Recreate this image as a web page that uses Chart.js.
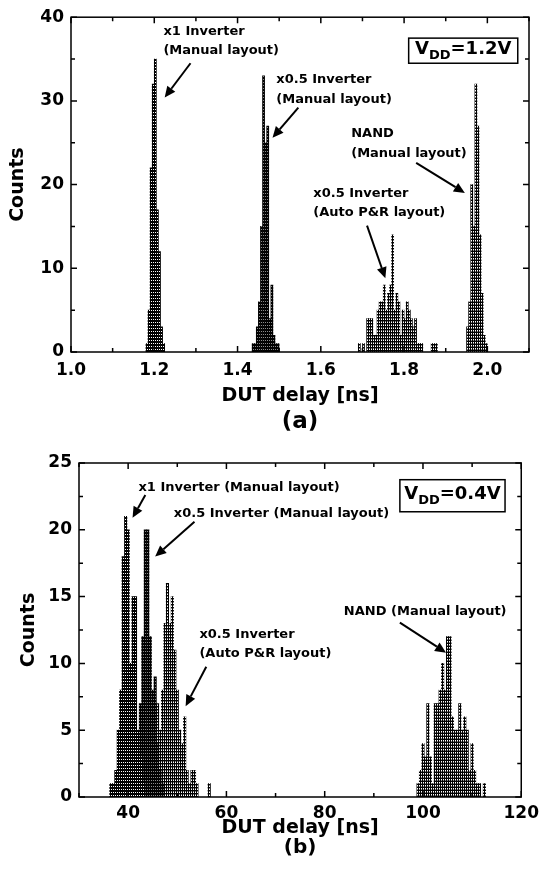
<!DOCTYPE html>
<html>
<head>
<meta charset="utf-8">
<script src="https://cdn.jsdelivr.net/npm/chart.js@4.4.0/dist/chart.umd.min.js"></script>
<style>
  html, body { margin: 0; padding: 0; background: #fff; }
  #boxA { position: absolute; left: 0; top: 0; width: 545px; height: 440px; }
  #boxB { position: absolute; left: 0; top: 440px; width: 545px; height: 437px; }
</style>
</head>
<body>
<div id="boxA"><canvas id="chartA"></canvas></div>
<div id="boxB"><canvas id="chartB"></canvas></div>
<script>
const FONT = '"DejaVu Sans", "Liberation Sans", sans-serif';

// ---- (a) VDD = 1.2 V, delay bins of 0.005 ns ----
const aX1Delay = [1.1825, 1.1875, 1.1925, 1.1975, 1.2025, 1.2075, 1.2125, 1.2175, 1.2225];
const aX1Count = [1, 5, 22, 32, 35, 17, 12, 3, 1];

const aHalfDelay = [1.4375, 1.4425, 1.4475, 1.4525, 1.4575, 1.4625, 1.4675, 1.4725, 1.4775, 1.4825, 1.4875, 1.4925, 1.4975];
const aHalfCount = [1, 1, 3, 6, 15, 33, 25, 27, 4, 8, 2, 1, 1];

const aAutoDelay = [1.6925, 1.7025, 1.7125, 1.7175, 1.7225, 1.7275, 1.7325, 1.7375, 1.7425, 1.7475, 1.7525,
                    1.7575, 1.7625, 1.7675, 1.7725, 1.7775, 1.7825, 1.7875, 1.7925, 1.7975, 1.8025, 1.8075,
                    1.8125, 1.8175, 1.8225, 1.8275, 1.8325, 1.8375, 1.8425, 1.8675, 1.8725, 1.8775];
const aAutoCount = [1, 1, 4, 4, 4, 2, 2, 5, 6, 6, 8, 5, 7, 8, 14, 5, 7, 6, 2, 5, 4, 6, 5, 4, 3, 4, 1, 1, 1, 1, 1, 1];

const aNandDelay = [1.9525, 1.9575, 1.9625, 1.9675, 1.9725, 1.9775, 1.9825, 1.9875, 1.9925, 1.9975];
const aNandCount = [3, 6, 20, 15, 32, 27, 14, 7, 2, 1];

// ---- (b) VDD = 0.4 V, delay bins of 0.5 ns ----
const bX1Delay = [36.5, 37, 37.5, 38, 38.5, 39, 39.5, 40, 40.5, 41, 41.5, 42, 42.5, 43];
const bX1Count = [1, 1, 2, 5, 8, 18, 21, 20, 10, 15, 15, 5, 3, 1];

const bHalfDelay = [41.5, 42, 42.5, 43, 43.5, 44, 44.5, 45, 45.5, 46, 46.5, 47];
const bHalfCount = [3, 4, 7, 12, 20, 20, 12, 8, 9, 4, 2, 1];

const bAutoDelay = [43, 43.5, 44, 44.5, 45, 45.5, 46, 46.5, 47, 47.5, 48, 48.5, 49, 49.5, 50, 50.5,
                    51, 51.5, 52, 52.5, 53, 53.5, 54, 56.5];
const bAutoCount = [2, 3, 4, 5, 7, 6, 7, 5, 8, 13, 16, 13, 15, 11, 8, 5, 4, 6, 2, 1, 2, 2, 1, 1];

const bNandDelay = [99, 99.5, 100, 100.5, 101, 101.5, 102, 102.5, 103, 103.5, 104, 104.5, 105, 105.5,
                    106, 106.5, 107, 107.5, 108, 108.5, 109, 109.5, 110, 110.5, 111, 111.5, 112.5];
const bNandCount = [1, 2, 4, 3, 7, 3, 1, 7, 7, 8, 10, 8, 12, 12, 6, 5, 5, 7, 5, 6, 5, 2, 4, 2, 1, 1, 1];

// annotation texts (positions in data units of each panel)
const notesA = [
  { x: 1.222, y: 38.3, text: 'x1 Inverter' },
  { x: 1.222, y: 36.0, text: '(Manual layout)' },
  { x: 1.493, y: 32.5, text: 'x0.5 Inverter' },
  { x: 1.493, y: 30.2, text: '(Manual layout)' },
  { x: 1.673, y: 26.1, text: 'NAND' },
  { x: 1.673, y: 23.7, text: '(Manual layout)' },
  { x: 1.582, y: 18.9, text: 'x0.5 Inverter' },
  { x: 1.582, y: 16.6, text: '(Auto P&R layout)' }
];
const arrowsA = [
  [1.287, 34.5, 1.225, 30.4],
  [1.546, 29.2, 1.484, 25.6],
  [1.829, 22.6, 1.946, 19.0],
  [1.711, 15.1, 1.755, 8.8]
];
const notesB = [
  { x: 42.1, y: 23.15, text: 'x1 Inverter (Manual layout)' },
  { x: 49.3, y: 21.2, text: 'x0.5 Inverter (Manual layout)' },
  { x: 54.5, y: 12.15, text: 'x0.5 Inverter' },
  { x: 54.5, y: 10.7, text: '(Auto P&R layout)' },
  { x: 83.9, y: 13.9, text: 'NAND (Manual layout)' }
];
const arrowsB = [
  [43.5, 22.6, 40.9, 20.9],
  [53.5, 20.6, 45.5, 18.0],
  [55.9, 9.75, 51.7, 6.8],
  [95.3, 13.05, 104.7, 10.8]
];

function makePattern(ctx, rows) {
  const c = document.createElement('canvas');
  c.width = rows[0].length;
  c.height = rows.length;
  const g = c.getContext('2d');
  const col = { '#': '#000', '+': '#8a8a8a', '.': '#fff' };
  rows.forEach((r, j) => [...r].forEach((ch, i) => {
    g.fillStyle = col[ch];
    g.fillRect(i, j, 1, 1);
  }));
  return ctx.createPattern(c, 'repeat');
}

function series(delay, count, fill) {
  return {
    data: delay.map((d, i) => ({ x: d, y: count[i] })),
    backgroundColor: fill,
    borderWidth: 0,
    grouped: false,
    barPercentage: 1,
    categoryPercentage: 1
  };
}

function arrow(ctx, x1, y1, x2, y2) {
  const ang = Math.atan2(y2 - y1, x2 - x1);
  const hl = 11, hw = 5;
  const bx = x2 - hl * Math.cos(ang), by = y2 - hl * Math.sin(ang);
  ctx.beginPath();
  ctx.moveTo(x1, y1);
  ctx.lineTo(bx, by);
  ctx.lineWidth = 2;
  ctx.stroke();
  ctx.beginPath();
  ctx.moveTo(x2, y2);
  ctx.lineTo(bx + hw * Math.sin(ang), by - hw * Math.cos(ang));
  ctx.lineTo(bx - hw * Math.sin(ang), by + hw * Math.cos(ang));
  ctx.closePath();
  ctx.fill();
}

const framePlugin = {
  id: 'frame',
  afterDraw(chart, args, o) {
    const { ctx, chartArea: a, scales: { x, y } } = chart;
    ctx.save();
    ctx.strokeStyle = '#000';
    ctx.fillStyle = '#000';
    ctx.lineWidth = 1.5;
    ctx.strokeRect(a.left, a.top, a.right - a.left, a.bottom - a.top);

    // inward ticks on all four sides
    x.ticks.forEach(t => {
      const px = x.getPixelForValue(t.value);
      const len = t.label === '' ? 4 : 6;
      ctx.beginPath();
      ctx.moveTo(px, a.bottom); ctx.lineTo(px, a.bottom - len);
      ctx.moveTo(px, a.top); ctx.lineTo(px, a.top + len);
      ctx.stroke();
    });
    y.ticks.forEach(t => {
      const py = y.getPixelForValue(t.value);
      const len = t.label === '' ? 4 : 6;
      ctx.beginPath();
      ctx.moveTo(a.left, py); ctx.lineTo(a.left + len, py);
      ctx.moveTo(a.right, py); ctx.lineTo(a.right - len, py);
      ctx.stroke();
    });

    // labels and arrows
    ctx.font = 'bold 13px ' + FONT;
    ctx.textAlign = 'left';
    ctx.textBaseline = 'middle';
    o.notes.forEach(n => ctx.fillText(n.text, x.getPixelForValue(n.x), y.getPixelForValue(n.y)));
    o.arrows.forEach(r => arrow(ctx, x.getPixelForValue(r[0]), y.getPixelForValue(r[1]),
                                     x.getPixelForValue(r[2]), y.getPixelForValue(r[3])));

    // VDD box
    const bx1 = x.getPixelForValue(o.box[0]), bx2 = x.getPixelForValue(o.box[1]);
    const by1 = y.getPixelForValue(o.box[2]), by2 = y.getPixelForValue(o.box[3]);
    ctx.lineWidth = 1.5;
    ctx.strokeRect(bx1, by1, bx2 - bx1, by2 - by1);
    const big = 'bold 18px ' + FONT, small = 'bold 13px ' + FONT;
    ctx.font = big; const w1 = ctx.measureText('V').width;
    const w3 = ctx.measureText('=' + o.vdd).width;
    ctx.font = small; const w2 = ctx.measureText('DD').width;
    let tx = (bx1 + bx2) / 2 - (w1 + w2 + w3) / 2;
    const ty = (by1 + by2) / 2;
    ctx.textBaseline = 'middle';
    ctx.font = big; ctx.fillText('V', tx, ty - 1); tx += w1;
    ctx.font = small; ctx.fillText('DD', tx, ty + 5); tx += w2;
    ctx.font = big; ctx.fillText('=' + o.vdd, tx, ty - 1);

    // panel letter
    ctx.font = o.panelFont;
    ctx.textAlign = 'center';
    ctx.fillText(o.panel, (a.left + a.right) / 2, a.bottom + o.panelGap);
    ctx.restore();
  }
};

function makeChart(id, cfg) {
  const canvas = document.getElementById(id);
  const ctx = canvas.getContext('2d');
  return new Chart(ctx, {
    type: 'bar',
    data: { datasets: cfg.sets(ctx) },
    plugins: [framePlugin],
    options: {
      responsive: true,
      maintainAspectRatio: false,
      animation: false,
      devicePixelRatio: 1,
      layout: { padding: { left: 0, right: cfg.padRight, top: cfg.padTop, bottom: 0 } },
      plugins: {
        legend: { display: false },
        tooltip: { enabled: false },
        frame: cfg.frame
      },
      scales: {
        x: {
          type: 'linear',
          offset: false,
          min: cfg.xMin, max: cfg.xMax,
          grid: { display: false, drawTicks: false, offset: false },
          border: { display: false },
          ticks: {
            stepSize: cfg.xStep,
            padding: cfg.xPad,
            color: '#000',
            font: { family: FONT, size: 17, weight: 'bold' },
            maxRotation: 0,
            autoSkip: false,
            callback: cfg.xLabel
          },
          title: {
            display: true,
            text: 'DUT delay [ns]',
            color: '#000',
            font: { family: FONT, size: 19, weight: 'bold' },
            padding: { top: 0, bottom: cfg.xTitlePad }
          },
          afterFit: s => { s.height = cfg.xHeight; }
        },
        y: {
          min: cfg.yMin, max: cfg.yMax,
          grid: { display: false, drawTicks: false },
          border: { display: false },
          ticks: {
            stepSize: cfg.yStep,
            padding: 7,
            color: '#000',
            font: { family: FONT, size: 17, weight: 'bold' },
            autoSkip: false,
            callback: cfg.yLabel
          },
          title: {
            display: true,
            text: 'Counts',
            color: '#000',
            font: { family: FONT, size: 19, weight: 'bold' },
            padding: { top: cfg.yTitlePad, bottom: 0 }
          },
          afterFit: s => { s.width = cfg.yWidth; }
        }
      }
    }
  });
}

makeChart('chartA', {
  sets: ctx => [
    series(aX1Delay, aX1Count, makePattern(ctx, ['##', '#.', '##'])),
    series(aHalfDelay, aHalfCount, makePattern(ctx, ['##', '#+', '##'])),
    series(aAutoDelay, aAutoCount, makePattern(ctx, ['#+', '#.', '##'])),
    series(aNandDelay, aNandCount, makePattern(ctx, ['#.', '#+', '##']))
  ],
  padRight: 16, padTop: 16,
  xMin: 1.0, xMax: 2.1, xStep: 0.1, xPad: 8, xHeight: 88, xTitlePad: 33,
  xLabel: v => (Math.round(v * 10) % 2 === 0 ? v.toFixed(1) : ''),
  yMin: 0, yMax: 40, yStep: 5, yWidth: 71, yTitlePad: 7,
  yLabel: v => (v % 10 === 0 ? String(v) : ''),
  frame: {
    notes: notesA, arrows: arrowsA,
    box: [1.811, 2.073, 37.5, 34.5], vdd: '1.2V',
    panel: '(a)', panelFont: 'bold 23px ' + FONT, panelGap: 70
  }
});

makeChart('chartB', {
  sets: ctx => [
    series(bX1Delay, bX1Count, makePattern(ctx, ['##', '#.', '##'])),
    series(bHalfDelay, bHalfCount, makePattern(ctx, ['##', '#+', '##'])),
    series(bAutoDelay, bAutoCount, makePattern(ctx, ['#+', '#.', '##'])),
    series(bNandDelay, bNandCount, makePattern(ctx, ['#.', '#+', '##']))
  ],
  padRight: 15, padTop: 23,
  xMin: 30, xMax: 120, xStep: 10, xPad: 6, xHeight: 80, xTitlePad: 38,
  xLabel: v => (v % 20 === 0 ? String(v) : ''),
  yMin: 0, yMax: 25, yStep: 2.5, yWidth: 79, yTitlePad: 18,
  yLabel: v => (v % 5 === 0 ? String(v) : ''),
  frame: {
    notes: notesB, arrows: arrowsB,
    box: [95.3, 116.7, 23.75, 21.35], vdd: '0.4V',
    panel: '(b)', panelFont: 'bold 20px ' + FONT, panelGap: 51
  }
});
</script>
</body>
</html>
